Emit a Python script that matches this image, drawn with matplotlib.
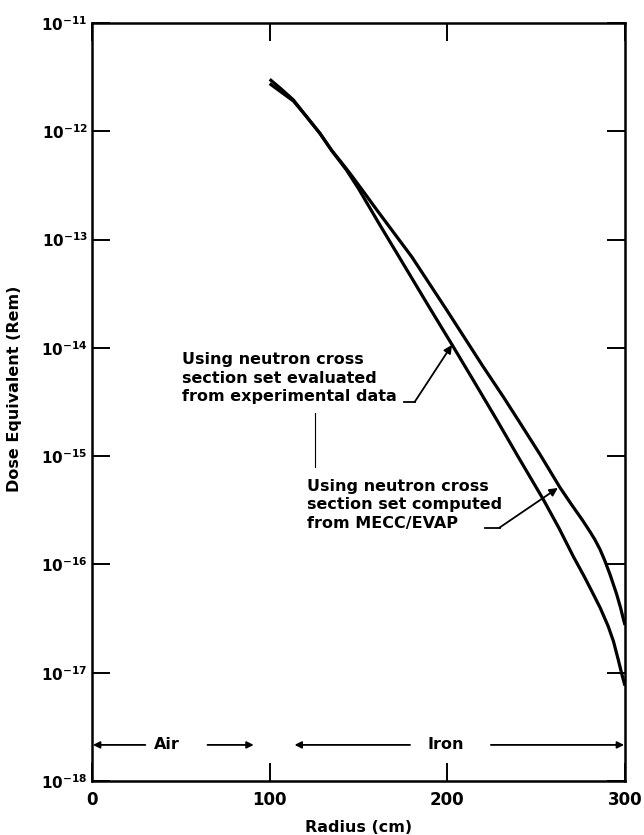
import matplotlib
matplotlib.use("Agg")
import matplotlib.pyplot as plt
import numpy as np

plt.rcParams['font.family'] = ['DejaVu Sans']
plt.rcParams['mathtext.fontset'] = 'dejavusans'
plt.rcParams['mathtext.default'] = 'bf'

# ---- data ----
# curve: neutron cross section set evaluated from experimental data (steeper curve)
exp_r = [100, 105.8, 113.3, 120, 128.3, 135, 143.3, 150, 162, 173, 190, 202.6, 215, 228,
         240, 254, 263, 271, 277, 282, 286, 290.5, 293.5, 296.2, 298, 299.3, 300]
exp_logd = [-11.52, -11.60, -11.71, -11.85, -12.02, -12.18, -12.36, -12.53, -12.865, -13.165,
            -13.63, -13.97, -14.31, -14.67, -15.01, -15.40, -15.67, -15.93, -16.11, -16.27,
            -16.40, -16.57, -16.71, -16.88, -17.00, -17.08, -17.12]

# curve: neutron cross section set computed from MECC/EVAP (flatter curve)
mecc_r = [100, 105.8, 113.3, 120, 128.3, 135, 140, 145, 152, 160, 170, 180, 190, 200, 220,
          231.4, 240, 252, 263.4, 270, 276, 280, 283, 285.9, 288.5, 291.5, 295.2, 297.5,
          299, 300]
mecc_logd = [-11.56, -11.63, -11.72, -11.85, -12.02, -12.18, -12.28, -12.385, -12.54, -12.72,
             -12.94, -13.16, -13.41, -13.66, -14.17, -14.45, -14.67, -14.98, -15.29, -15.45,
             -15.59, -15.69, -15.77, -15.86, -15.96, -16.09, -16.27, -16.40, -16.50, -16.56]

exp_dose = [10.0 ** v for v in exp_logd]
mecc_dose = [10.0 ** v for v in mecc_logd]

x_ticks = [0, 100, 200, 300]
y_exponents = [-18, -17, -16, -15, -14, -13, -12, -11]

label_exp = "Using neutron cross\nsection set evaluated\nfrom experimental data"
label_mecc = "Using neutron cross\nsection set computed\nfrom MECC/EVAP"

# ---- figure ----
fig = plt.figure(figsize=(6.44, 8.35), dpi=100)
ax = fig.add_axes([0.1429, 0.0647, 0.8276, 0.9078])

ax.plot(exp_r, exp_dose, color='black', lw=2.3, solid_capstyle='butt')
ax.plot(mecc_r, mecc_dose, color='black', lw=2.3, solid_capstyle='butt')

ax.set_yscale('log')
ax.set_xlim(0, 300)
ax.set_ylim(1e-18, 1e-11)

ax.set_xticks(x_ticks)
ax.set_xticklabels([str(t) for t in x_ticks])
ax.set_yticks([10.0 ** e for e in y_exponents])
ax.set_yticklabels([r'$\mathbf{10^{%d}}$' % e for e in y_exponents])
ax.yaxis.set_minor_locator(matplotlib.ticker.NullLocator())
ax.tick_params(axis='both', which='major', direction='in', length=13, width=1.4,
               top=True, right=True, labelsize=11, pad=3)
ax.tick_params(axis='x', pad=7, labelsize=12)
for lab in ax.get_xticklabels():
    lab.set_fontweight('bold')

for s in ax.spines.values():
    s.set_linewidth(1.8)

ax.set_xlabel('Radius (cm)', fontsize=11.5, fontweight='bold', labelpad=8)
ax.set_ylabel('Dose Equivalent (Rem)', fontsize=11.5, fontweight='bold')
ax.yaxis.set_label_coords(-0.131, 0.517)

# ---- annotations ----
ax.text(50.6, 10 ** -14.28, label_exp, fontsize=11.5, fontweight='bold', va='center',
        ha='left', linespacing=1.3)
ax.plot([175.5, 181.8], [10 ** -14.50] * 2, color='black', lw=1.3)
ax.annotate('', xy=(202.6, 10 ** -13.973), xytext=(181.6, 10 ** -14.50),
            arrowprops=dict(arrowstyle='-|>', color='black', lw=1.3,
                            mutation_scale=12, shrinkA=0, shrinkB=0))

ax.text(121.0, 10 ** -15.45, label_mecc, fontsize=11.5, fontweight='bold', va='center',
        ha='left', linespacing=1.3)
ax.plot([221.2, 229.6], [10 ** -15.66] * 2, color='black', lw=1.3)
ax.annotate('', xy=(262.2, 10 ** -15.294), xytext=(229.4, 10 ** -15.66),
            arrowprops=dict(arrowstyle='-|>', color='black', lw=1.3,
                            mutation_scale=12, shrinkA=0, shrinkB=0))

# stray vertical mark under the first label
ax.plot([125.5, 125.5], [10 ** -14.60, 10 ** -15.10], color='black', lw=0.8)

# Air / Iron region arrows
y_reg = 10 ** -17.667
arrow_kw = dict(arrowstyle='-|>', color='black', lw=1.3, mutation_scale=10,
                shrinkA=0, shrinkB=0)
ax.annotate('', xy=(0.5, y_reg), xytext=(30, y_reg), arrowprops=arrow_kw)
ax.text(42, y_reg, 'Air', fontsize=11.5, fontweight='bold', ha='center', va='center')
ax.annotate('', xy=(91, y_reg), xytext=(65, y_reg), arrowprops=arrow_kw)
ax.annotate('', xy=(114, y_reg), xytext=(179, y_reg), arrowprops=arrow_kw)
ax.text(199, y_reg, 'Iron', fontsize=11.5, fontweight='bold', ha='center', va='center')
ax.annotate('', xy=(299.5, y_reg), xytext=(224.5, y_reg), arrowprops=arrow_kw)

fig.savefig('out.png', dpi=100)
